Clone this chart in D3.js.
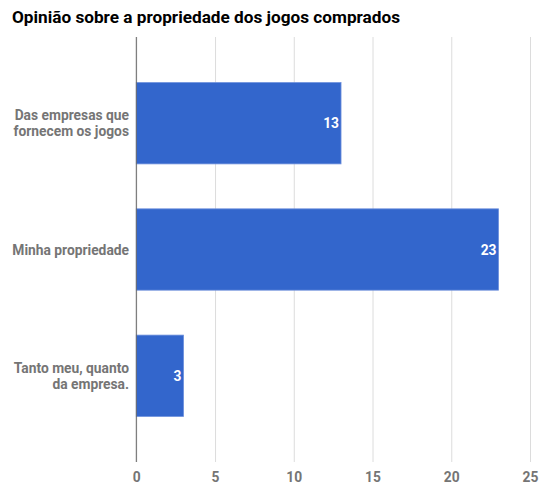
<!DOCTYPE html>
<html>
<head>
<meta charset="utf-8">
<script src="https://cdn.jsdelivr.net/npm/d3@7"></script>
<style>
  html, body { margin: 0; padding: 0; background: #fff; }
  svg { display: block; font-family: Roboto, "Noto Sans", sans-serif; }
</style>
</head>
<body>
<svg id="chart" width="543" height="484"></svg>
<script>
// Answers to "who owns the games you bought"
const categories = [
  ["Das empresas que", "fornecem os jogos"],
  ["Minha propriedade"],
  ["Tanto meu, quanto", "da empresa."]
];
const counts = [13, 23, 3];
const xTicks = [0, 5, 10, 15, 20, 25];
const title = "Opinião sobre a propriedade dos jogos comprados";

const svg = d3.select("#chart");
const plot = { left: 136.3, right: 530, top: 37, bottom: 462 };

const x = d3.scaleLinear().domain([0, 25]).range([plot.left, plot.right]);
const y = d3.scaleBand()
  .domain(d3.range(categories.length))
  .range([plot.top, plot.bottom])
  .paddingInner(0.356)
  .paddingOuter(0.361);

// title
svg.append("text")
  .attr("x", 12).attr("y", 23)
  .attr("font-size", 17.2).attr("font-weight", "bold")
  .attr("fill", "#000")
  .text(title);

// vertical gridlines
const grid = d3.axisBottom(x).tickValues(xTicks).tickSize(-(plot.bottom - plot.top)).tickFormat("");
svg.append("g")
  .attr("transform", `translate(0,${plot.bottom})`)
  .call(grid)
  .call(g => g.select(".domain").remove())
  .call(g => g.selectAll("line").attr("stroke", "#dcdcdc").attr("stroke-width", 1));

// bars
svg.append("g").selectAll("rect")
  .data(counts)
  .join("rect")
  .attr("x", x(0))
  .attr("y", (d, i) => y(i))
  .attr("width", d => x(d) - x(0))
  .attr("height", y.bandwidth())
  .attr("fill", "#3366cc")
  .attr("stroke", "#6d8fdc")
  .attr("stroke-width", 0.8);

// value labels inside the bar ends
svg.append("g").selectAll("text")
  .data(counts)
  .join("text")
  .attr("x", d => x(d) - 2)
  .attr("y", (d, i) => y(i) + y.bandwidth() / 2 + 5)
  .attr("text-anchor", "end")
  .attr("font-size", 13.8).attr("font-weight", "bold")
  .attr("fill", "#fff")
  .text(d => d);

// zero baseline
svg.append("line")
  .attr("x1", x(0)).attr("x2", x(0))
  .attr("y1", plot.top).attr("y2", plot.bottom)
  .attr("stroke", "#666").attr("stroke-width", 1);

// category labels
const lineH = 15.5;
const cat = svg.append("g").selectAll("text")
  .data(categories)
  .join("text")
  .attr("text-anchor", "end")
  .attr("font-size", 13.8).attr("font-weight", "bold")
  .attr("fill", "#757575");
cat.each(function(lines, i) {
  const cy = y(i) + y.bandwidth() / 2;
  const y0 = cy - (lines.length - 1) * lineH / 2 + 5;
  d3.select(this).selectAll("tspan")
    .data(lines)
    .join("tspan")
    .attr("x", 129)
    .attr("y", (d, j) => y0 + j * lineH)
    .text(d => d);
});

// x-axis tick labels
const xAxis = d3.axisBottom(x).tickValues(xTicks).tickSize(0).tickPadding(0);
svg.append("g")
  .attr("transform", `translate(0,${plot.bottom})`)
  .call(xAxis)
  .call(g => g.select(".domain").remove())
  .call(g => g.selectAll("text")
    .attr("y", 10)
    .attr("dy", "0.71em")
    .attr("font-family", "Roboto, sans-serif")
    .attr("font-size", 13.8).attr("font-weight", "bold")
    .attr("fill", "#757575"));
</script>
</body>
</html>
